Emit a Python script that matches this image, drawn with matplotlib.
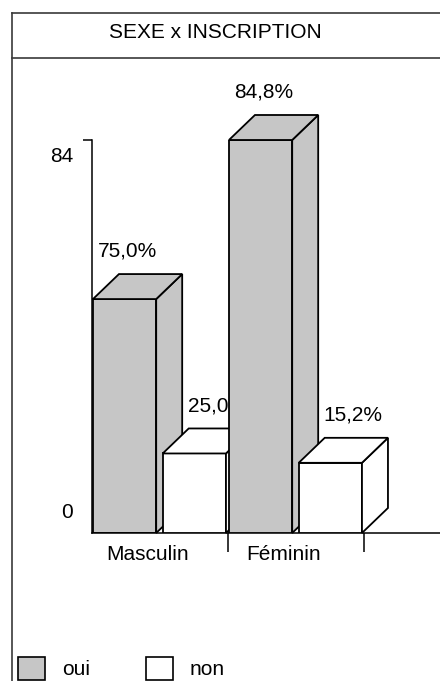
import matplotlib
matplotlib.use('Agg')
import matplotlib.pyplot as plt
from matplotlib.patches import Polygon, Patch
from matplotlib.lines import Line2D
from matplotlib.transforms import ScaledTranslation

plt.rcParams['font.family'] = ['Liberation Sans', 'DejaVu Sans']
plt.rcParams['font.size'] = 15

# data (counts, with the percentages printed on top)
categories = ['Masculin', 'Féminin']
series = ['oui', 'non']
oui = [50, 84]
non = [17, 15]
oui_labels = ['75,0%', '84,8%']
non_labels = ['25,0%', '15,2%']
y_ticks = [0, 84]

W, H = 440, 681
fig = plt.figure(figsize=(W / 100, H / 100), dpi=100)

# plot area in pixels (from the top-left corner)
x0, x1 = 92, 440
y_base, y_top = 533, 140
group_px = 136
ax = fig.add_axes([x0 / W, 1 - y_base / H, (x1 - x0) / W, (y_base - y_top) / H])
ax.set_xlim(0, (x1 - x0) / group_px)
ax.set_ylim(0, max(y_ticks))

# 3d depth of the bars, in pixels -> data units
px_per_y = (y_base - y_top) / max(y_ticks)
dx = 26 / group_px
dy = 25 / px_per_y

gray = '#c6c6c6'
bar_w = 0.465
offsets = {'oui': 0.007, 'non': 0.52}
label_dx = {'oui': 3.5, 'non': 18}


def draw_bar(x, h, color, z):
    ax.bar(x, h, width=bar_w, align='edge', color=color, edgecolor='black',
           linewidth=1.3, zorder=z)
    xr = x + bar_w
    side = [(xr, 0), (xr + dx, dy), (xr + dx, h + dy), (xr, h)]
    top = [(x, h), (x + dx, h + dy), (xr + dx, h + dy), (xr, h)]
    for pts in (side, top):
        ax.add_patch(Polygon(pts, closed=True, facecolor=color, edgecolor='black',
                             linewidth=1.3, zorder=z, clip_on=False,
                             joinstyle='miter'))


z = 2
for i, cat in enumerate(categories):
    for s, vals, labs, color in (('oui', oui, oui_labels, gray),
                                 ('non', non, non_labels, 'white')):
        x = i + offsets[s]
        draw_bar(x, vals[i], color, z)
        ax.annotate(labs[i], xy=(x, vals[i] + dy), xytext=(label_dx[s], 16.5),
                    textcoords='offset points', ha='left', va='center',
                    annotation_clip=False, zorder=z + 0.5)
        z += 1

# axes
for side in ('top', 'right'):
    ax.spines[side].set_visible(False)
for side in ('left', 'bottom'):
    ax.spines[side].set_linewidth(1.1)

ax.set_yticks(y_ticks)
ax.set_yticklabels([str(v) for v in y_ticks])
ax.tick_params(axis='y', length=6.5, width=1.1, pad=7)
ax.yaxis.get_major_ticks()[0].tick1line.set_visible(False)
for lbl, off in zip(ax.get_yticklabels(), [23, -14]):
    lbl.set_transform(lbl.get_transform() + ScaledTranslation(0, off / 100, fig.dpi_scale_trans))

ax.set_xticks([i + 0.5 for i in range(len(categories))])
ax.set_xticklabels(categories)
ax.set_xticks([1, 2], minor=True)
ax.tick_params(axis='x', which='major', length=0, pad=9)
ax.tick_params(axis='x', which='minor', length=13.7, width=1.1, direction='out')
for lbl in ax.get_xticklabels():
    lbl.set_transform(lbl.get_transform() + ScaledTranslation(-12 / 100, 0, fig.dpi_scale_trans))

# title and frame
fig.text(215 / W, 1 - 32 / H, 'SEXE x INSCRIPTION', ha='center', va='center')
frame_kw = dict(color='#3a3a3a', linewidth=1.2, transform=fig.transFigure)
fig.add_artist(Line2D([12 / W, 12 / W], [1 - 13 / H, 0], **frame_kw))
fig.add_artist(Line2D([12 / W, 1], [1 - 13 / H, 1 - 13 / H], **frame_kw))
fig.add_artist(Line2D([12 / W, 1], [1 - 58 / H, 1 - 58 / H], **frame_kw))

# legend
handles = [Patch(facecolor=gray, edgecolor='black', linewidth=1.2),
           Patch(facecolor='white', edgecolor='black', linewidth=1.2)]
fig.legend(handles, series, loc='lower left', bbox_to_anchor=(18 / W, 1.5 / H),
           ncol=2, frameon=False, borderpad=0, borderaxespad=0,
           handlelength=1.3, handleheight=1.3, handletextpad=0.8,
           columnspacing=2.7)

fig.savefig('out.png', dpi=100)
